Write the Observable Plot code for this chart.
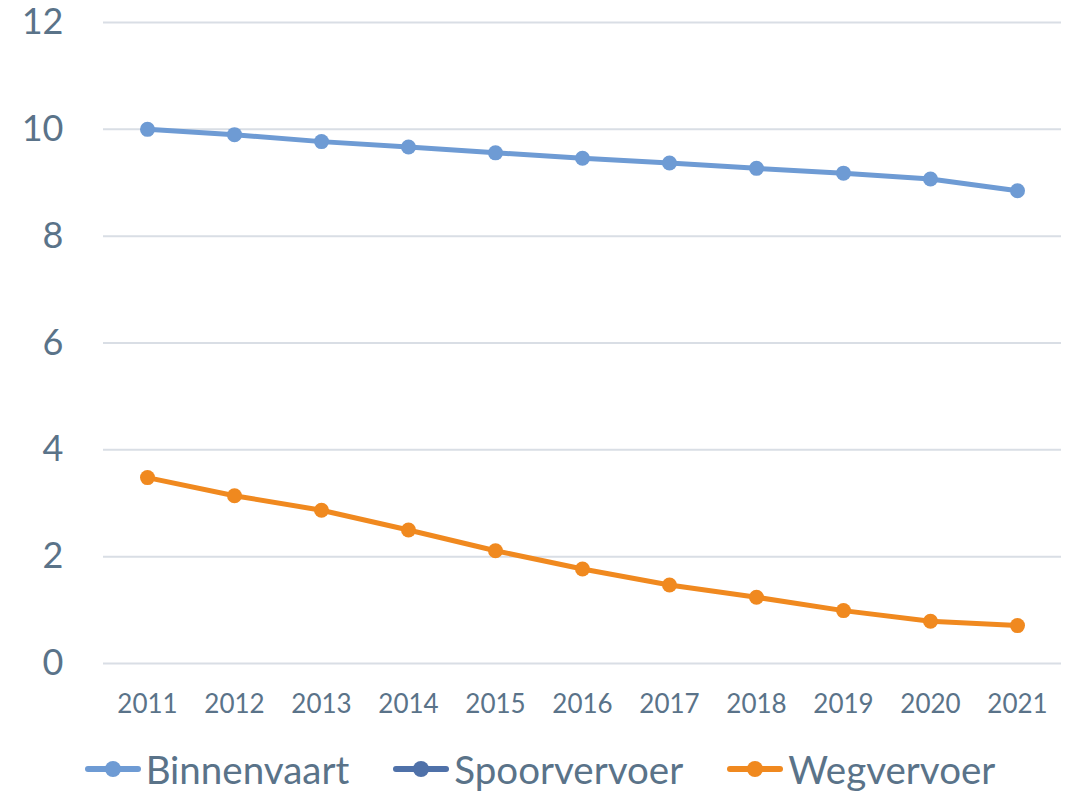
<!DOCTYPE html>
<html>
<head>
<meta charset="utf-8">
<script src="https://cdn.jsdelivr.net/npm/d3@7"></script>
<script src="https://cdn.jsdelivr.net/npm/@observablehq/plot@0.6"></script>
<style>
  body { margin: 0; background: #fff; font-family: Lato, "Open Sans", sans-serif; }
  #chart svg { display: block; overflow: visible; }
  #legend { display: flex; justify-content: center; align-items: center; gap: 44px; height: 50px; padding-top: 12px; font-size: 38.5px; color: #5a7389; margin-left: 4px;}
  .item { display: flex; align-items: center; }
  .sw { position: relative; width: 56px; height: 6px; border-radius: 3px; margin-right: 5px; }
  .sw::after { content: ""; position: absolute; left: 20px; top: -5px; width: 16px; height: 16px; border-radius: 50%; background: inherit; }
</style>
</head>
<body>
<div id="chart"></div>
<div id="legend"></div>
<script>
const years = ["2011","2012","2013","2014","2015","2016","2017","2018","2019","2020","2021"];
const seriesNames = ["Binnenvaart", "Spoorvervoer", "Wegvervoer"];
const seriesColors = ["#6e9bd4", "#4f71a9", "#f0891f"];
const binnenvaart = [10.0, 9.9, 9.77, 9.67, 9.56, 9.46, 9.37, 9.27, 9.18, 9.07, 8.85];
const spoorvervoer = [null, null, null, null, null, null, null, null, null, null, null];
const wegvervoer = [3.48, 3.14, 2.87, 2.50, 2.11, 1.77, 1.47, 1.24, 0.99, 0.79, 0.71];
const yTicks = [0, 2, 4, 6, 8, 10, 12];

const allValues = [binnenvaart, spoorvervoer, wegvervoer];
const data = [];
seriesNames.forEach((s, i) => {
  years.forEach((y, j) => {
    if (allValues[i][j] != null) data.push({series: s, year: y, value: allValues[i][j]});
  });
});

const chart = Plot.plot({
  width: 1076,
  height: 732,
  marginTop: 22,
  marginBottom: 69,
  marginLeft: 103,
  marginRight: 15,
  style: { fontFamily: "Lato, 'Open Sans', sans-serif", color: "#5a7389", background: "#fff", overflow: "visible" },
  x: { type: "point", domain: years, padding: 0.5 },
  y: { domain: [0, 12] },
  color: { domain: seriesNames, range: seriesColors },
  marks: [
    Plot.ruleY(yTicks, { stroke: "#d9dee5", strokeWidth: 2 }),
    Plot.axisY(yTicks, { tickSize: 0, tickPadding: 40, fontSize: 36, label: null, tickFormat: d => String(d) }),
    Plot.axisX(years, { tickSize: 0, tickPadding: 31, fontSize: 26, label: null }),
    Plot.line(data, { x: "year", y: "value", z: "series", stroke: "series", strokeWidth: 5 }),
    Plot.dot(data, { x: "year", y: "value", fill: "series", r: 7.5 })
  ]
});
document.getElementById("chart").append(chart);

const legend = document.getElementById("legend");
seriesNames.forEach((s, i) => {
  const item = document.createElement("div");
  item.className = "item";
  const sw = document.createElement("span");
  sw.className = "sw";
  sw.style.background = seriesColors[i];
  const t = document.createElement("span");
  t.textContent = s;
  item.append(sw, t);
  legend.append(item);
});
</script>
</body>
</html>
